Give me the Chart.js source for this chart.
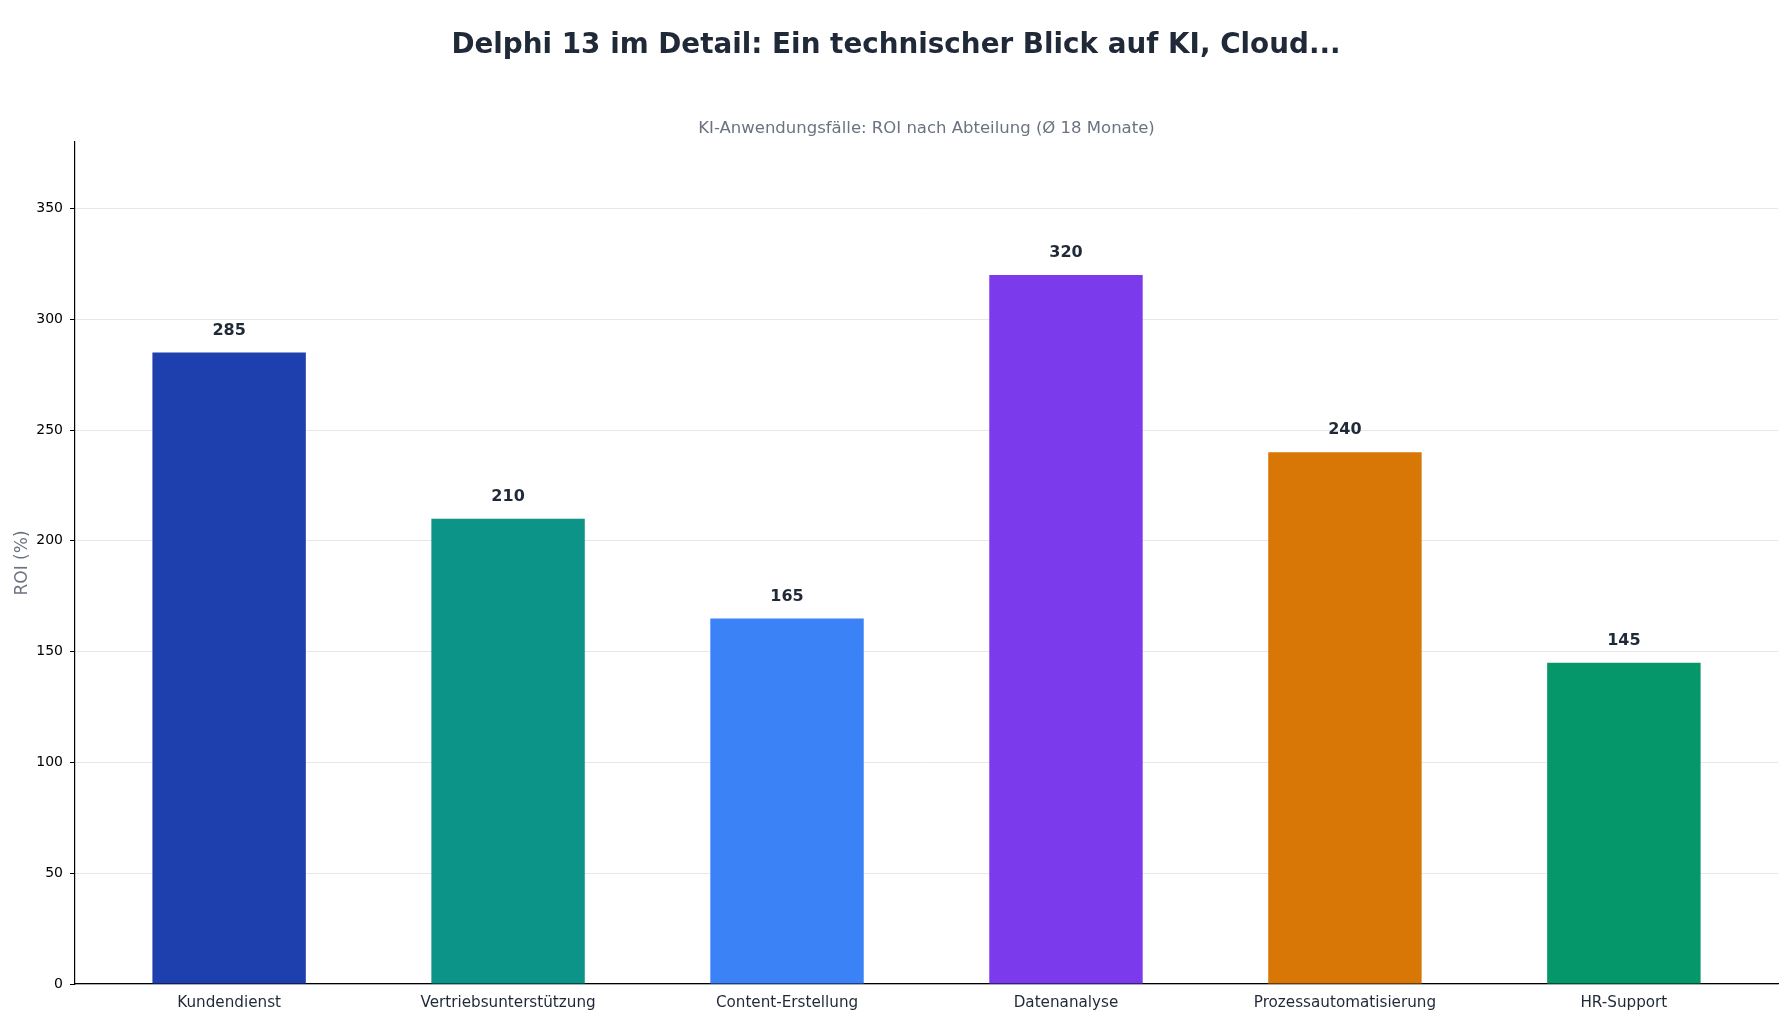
<!DOCTYPE html>
<html>
<head>
<meta charset="utf-8">
<script src="https://cdn.jsdelivr.net/npm/chart.js@4"></script>
<style>
  html, body { margin: 0; padding: 0; background: #ffffff; }
  #wrap { width: 1792px; height: 1024px; position: relative; }
</style>
</head>
<body>
<div id="wrap"><canvas id="roiChart"></canvas></div>
<script>
const categories = ["Kundendienst", "Vertriebsunterstützung", "Content-Erstellung", "Datenanalyse", "Prozessautomatisierung", "HR-Support"]
const roiValues = [285, 210, 165, 320, 240, 145]
const barColors = ["#1e40af", "#0d9488", "#3b82f6", "#7c3aed", "#d97706", "#059669"]
const yTicks = [0, 50, 100, 150, 200, 250, 300, 350]

const FONT = "'DejaVu Sans', sans-serif"

// value labels above the bars
const valueLabels = {
  id: 'valueLabels',
  afterDatasetsDraw(chart) {
    const ctx = chart.ctx
    const meta = chart.getDatasetMeta(0)
    ctx.save()
    ctx.font = "bold 16px " + FONT
    ctx.fillStyle = "#1f2937"
    ctx.textAlign = "center"
    ctx.textBaseline = "middle"
    meta.data.forEach((bar, i) => {
      ctx.fillText(String(roiValues[i]), bar.x, bar.y - 22)
    })
    ctx.restore()
  }
}

const ctx = document.getElementById('roiChart').getContext('2d')
new Chart(ctx, {
  type: 'bar',
  data: {
    datasets: [{
      label: 'ROI (%)',
      data: roiValues.map((v, i) => ({ x: i, y: v })),
      backgroundColor: barColors,
      borderWidth: 0,
      barPercentage: 0.55,
      categoryPercentage: 1.0
    }]
  },
  options: {
    responsive: true,
    maintainAspectRatio: false,
    devicePixelRatio: 1,
    animation: false,
    layout: { padding: 0 },
    plugins: {
      legend: { display: false },
      tooltip: { enabled: false },
      title: {
        display: true,
        text: 'Delphi 13 im Detail: Ein technischer Blick auf KI, Cloud...',
        color: '#1f2937',
        font: { family: FONT, size: 27.8, weight: 'bold' },
        padding: { top: 29, bottom: 56 }
      },
      subtitle: {
        display: true,
        fullSize: false,
        text: 'KI-Anwendungsfälle: ROI nach Abteilung (Ø 18 Monate)',
        color: '#6b7280',
        font: { family: FONT, size: 16.5 },
        padding: { top: 0, bottom: 3.8 }
      }
    },
    scales: {
      x: {
        type: 'linear',
        min: -0.5525,
        max: 5.5525,
        offset: false,
        afterBuildTicks: (scale) => {
          scale.ticks = categories.map((c, i) => ({ value: i }))
        },
        afterFit: (scale) => { scale.height = 40 },
        grid: { display: false, drawTicks: false },
        border: { display: true, color: '#000000', width: 1.2 },
        ticks: {
          autoSkip: false,
          maxRotation: 0,
          padding: 10,
          color: '#1f2937',
          font: { family: FONT, size: 15.2 },
          callback: (v) => categories[v]
        }
      },
      y: {
        min: 0,
        max: 380,
        afterBuildTicks: (scale) => {
          scale.ticks = yTicks.map(v => ({ value: v }))
        },
        afterFit: (scale) => { scale.width = 75 },
        grid: {
          color: '#e5e7eb',
          lineWidth: 1,
          tickColor: '#000000',
          tickLength: 5,
          drawTicks: true
        },
        border: { display: true, color: '#000000', width: 1.2 },
        ticks: {
          padding: 7,
          color: '#000000',
          font: { family: FONT, size: 14 }
        },
        title: {
          display: true,
          text: 'ROI (%)',
          color: '#6b7280',
          font: { family: FONT, size: 17 },
          padding: { top: 12, bottom: 0 }
        }
      },
      // empty right margin so the title stays centred on the canvas
      yRight: {
        position: 'right',
        min: 0,
        max: 380,
        afterFit: (scale) => { scale.width = 14 },
        grid: { display: false, drawTicks: false },
        border: { display: false },
        ticks: { display: false }
      }
    }
  },
  plugins: [valueLabels]
})
</script>
</body>
</html>
